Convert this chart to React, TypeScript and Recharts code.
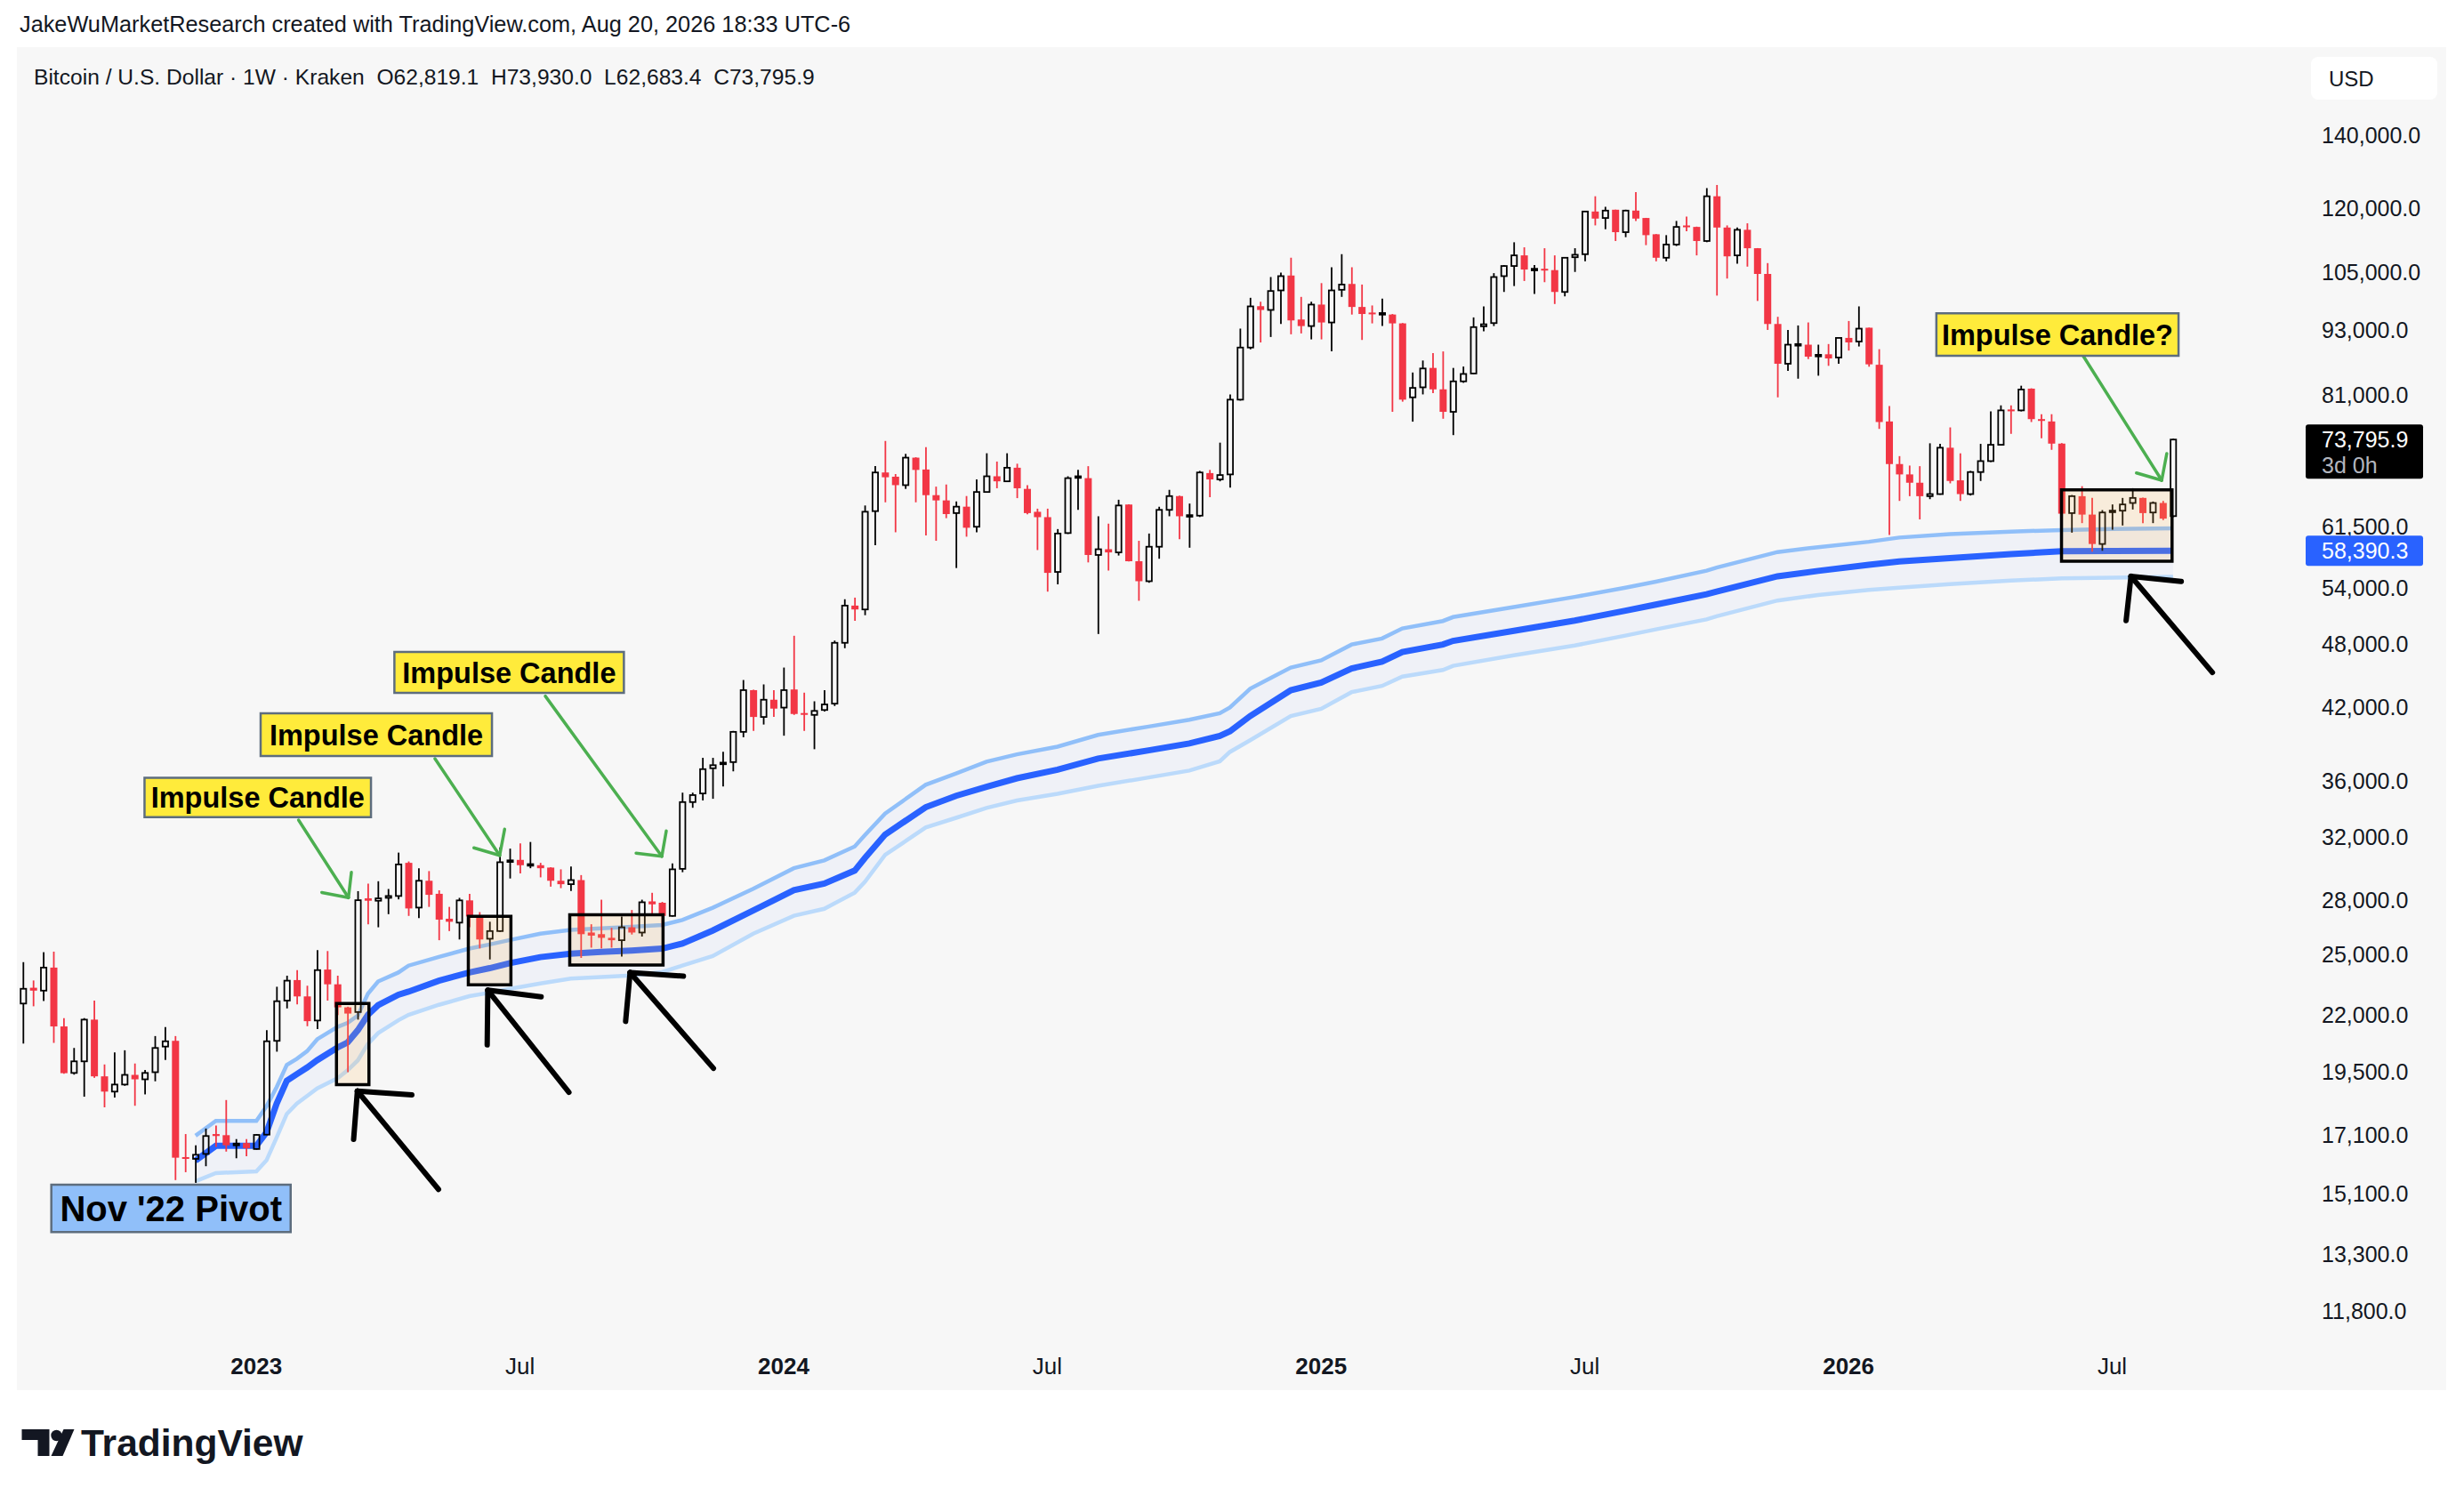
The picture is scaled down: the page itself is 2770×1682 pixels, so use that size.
import React from 'react';
import { ComposedChart, Bar, Line, Area, XAxis, YAxis, ReferenceArea, ReferenceLine } from 'recharts';

const W = 2770;
const H = 1682;
const FONT = '"Liberation Sans", Arial, Helvetica, sans-serif';
const INK = '#131722';
const RED = '#f23645';
const PANEL = '#f7f7f7';

// weekly candles, index 0 = week of Jul 25 2022, index 212 = week of Aug 17 2026
const opens = [
  22530, 23290, 23150, 24300, 21470, 19470, 19950, 21780, 19330, 18720,
  19000, 19390, 19210, 19500, 20580, 20830, 16310, 16250, 16420, 17120,
  17080, 16720, 16800, 16590, 17100, 20830, 22670, 23670, 22870, 21740,
  24200, 23460, 22350, 22130, 28110, 27970, 28140, 28250, 30290, 27570,
  29170, 28380, 26930, 26710, 27990, 27090, 25820, 26240, 30350, 30480,
  30140, 30140, 29990, 29170, 28960, 29210, 26160, 26070, 25870, 25740,
  26450, 26160, 27930, 27850, 27090, 29910, 34420, 35050, 36960, 37300,
  37440, 39900, 43560, 41170, 42690, 41990, 43620, 41510, 41350, 41780,
  42340, 48120, 52040, 51620, 63480, 68860, 68250, 67050, 71040, 69290,
  65650, 64930, 63220, 64080, 61430, 66090, 68310, 67590, 69550, 66520,
  63390, 62680, 55860, 60620, 68200, 68040, 57890, 58590, 58200, 64370,
  57130, 54780, 58900, 63650, 65520, 62800, 62880, 68770, 67860, 68580,
  80260, 89560, 97700, 96930, 101000, 104210, 95000, 93700, 98030, 94410,
  101130, 102380, 97540, 96400, 96000, 96000, 94230, 80650, 82370, 85800,
  82020, 78230, 83410, 84800, 93650, 94290, 104080, 106320, 108720, 105500,
  105700, 105400, 100670, 108300, 108990, 119230, 117620, 119680, 114160, 119460,
  117620, 113660, 108180, 111230, 115780, 115430, 112060, 123120, 115280, 108720,
  114730, 110370, 104560, 94110, 86560, 90100, 90100, 88000, 88300, 87700,
  91390, 90700, 93370, 86370, 76660, 70090, 68580, 67390, 65510, 65800,
  72540, 67730, 65800, 68920, 70530, 72990, 78620, 78470, 82140, 77040,
  76660, 73170, 63220, 65510, 63020, 59240, 63450, 63540, 64580, 65270,
  63300, 64580, 62819.1,
];
const highs = [
  24580, 23650, 25100, 25130, 21850, 20520, 21850, 22670, 19820, 20330,
  20420, 19860, 19590, 21040, 21440, 21040, 17120, 16720, 17320, 17430,
  18390, 16940, 16940, 17120, 21300, 23340, 23890, 24170, 23390, 25210,
  25160, 23890, 22380, 28540, 29000, 29140, 28670, 30950, 30380, 29950,
  29770, 28590, 27610, 28140, 28380, 27310, 26760, 31290, 31210, 31550,
  31650, 30290, 30010, 29880, 30060, 29520, 26620, 28030, 26420, 27060,
  27430, 28030, 28440, 27900, 30250, 35110, 35110, 37780, 37780, 38260,
  39980, 44500, 43600, 44090, 43560, 45680, 48840, 43330, 42550, 43560,
  48350, 52740, 52920, 64240, 69780, 73580, 68630, 71610, 71100, 72630,
  66840, 67140, 64790, 65530, 67880, 71700, 70460, 71700, 70140, 67050,
  63810, 63810, 61130, 68310, 69230, 69780, 62800, 61830, 65020, 64400,
  59640, 60560, 64070, 66390, 65600, 64500, 69090, 69230, 73320, 81130,
  93200, 99440, 98620, 103880, 104870, 108190, 99630, 98620, 102560, 106040,
  109000, 106040, 102250, 97850, 99250, 96100, 94300, 84980, 87150, 88520,
  88830, 85800, 86050, 95420, 97660, 104730, 106520, 111760, 110580, 106520,
  110370, 108720, 108320, 110370, 119250, 123120, 120420, 119700, 119680, 124200,
  117650, 113700, 113450, 116890, 117990, 115500, 125250, 126080, 115800, 115280,
  116310, 110400, 106970, 95540, 92940, 93820, 94410, 90100, 90220, 91400,
  94700, 97660, 93400, 89250, 79200, 71270, 69870, 69780, 73220, 73130,
  75710, 71690, 69090, 73130, 78320, 79300, 79300, 82650, 82200, 77840,
  77840, 73250, 65670, 66900, 65270, 63620, 64380, 65270, 66620, 65300,
  64780, 64860, 73930,
];
const lows = [
  20710, 22400, 22650, 20740, 19440, 19400, 18520, 19270, 18110, 18490,
  18950, 18170, 18610, 19130, 20010, 15540, 15800, 15450, 16000, 16660,
  16500, 16270, 16340, 16570, 17080, 20360, 22300, 22490, 21480, 21350,
  22670, 21990, 19500, 21780, 26620, 26450, 27190, 28050, 27090, 26960,
  27610, 25740, 26240, 25780, 26450, 25300, 24720, 26200, 29310, 29620,
  29950, 29380, 28810, 28720, 28550, 24800, 25340, 25300, 25340, 24870,
  26050, 25940, 27190, 26450, 27060, 29700, 34010, 34540, 34660, 35570,
  36720, 39450, 39980, 40520, 41170, 39580, 41350, 39980, 38470, 41640,
  42130, 47580, 50400, 51000, 59080, 64670, 60720, 66520, 64670, 60320,
  59640, 62550, 56320, 60160, 60720, 66000, 66610, 67500, 65240, 63050,
  58490, 53590, 54420, 60500, 63650, 56990, 49020, 56020, 57820, 57100,
  52570, 54600, 57430, 62800, 59840, 58780, 62700, 65370, 67590, 66710,
  80100, 89220, 90520, 91570, 94110, 92090, 92260, 91110, 91110, 88830,
  99630, 95990, 91000, 94230, 93700, 78230, 79920, 76630, 81150, 81370,
  77100, 74490, 83150, 84700, 92650, 93700, 100670, 101930, 103020, 100230,
  102760, 98150, 99740, 105000, 107370, 115800, 114870, 112060, 112970, 116890,
  111090, 107370, 107370, 110880, 114370, 108720, 111780, 99900, 103550, 106840,
  106180, 98780, 92940, 80650, 85270, 83880, 87420, 84410, 86180, 86560,
  88990, 89760, 86020, 75470, 60370, 64860, 65510, 62390, 65100, 65700,
  67300, 64860, 65600, 67640, 70400, 72900, 74690, 78300, 76570, 73990,
  72220, 59000, 60670, 61900, 58300, 58400, 61050, 61590, 63700, 61900,
  61900, 62300, 62683.4,
];
const closes = [
  23240, 23150, 24300, 21470, 19460, 19950, 21780, 19330, 18720, 19000,
  19390, 19210, 19470, 20520, 20810, 16290, 16270, 16390, 17050, 17050,
  16720, 16780, 16620, 17090, 20810, 22640, 23640, 22870, 21710, 24170,
  23460, 22350, 22060, 28000, 27970, 28110, 28250, 30190, 27520, 29170,
  28320, 26880, 26760, 27990, 27060, 25780, 26240, 30330, 30450, 30140,
  30210, 29950, 29170, 28960, 29210, 26070, 25990, 25870, 25740, 26450,
  26160, 27880, 27760, 27090, 29880, 34420, 34930, 36890, 37200, 37400,
  39900, 43560, 41170, 42690, 41900, 43560, 41430, 41360, 41700, 42270,
  48120, 52040, 51620, 63400, 68860, 68170, 67050, 71040, 69230, 65650,
  64930, 63090, 64080, 61300, 66090, 68310, 67590, 69550, 66610, 63220,
  62680, 55750, 60560, 68040, 68310, 57890, 58590, 58200, 64240, 57130,
  54780, 58900, 63650, 65520, 62800, 62950, 68860, 67860, 68490, 80260,
  89560, 97660, 96930, 100870, 104080, 94820, 93700, 98030, 94410, 101000,
  102250, 97540, 96110, 96110, 96300, 94230, 80260, 82270, 85700, 82020,
  78230, 83410, 84720, 93490, 94050, 103880, 106320, 108720, 105530, 105700,
  105400, 100670, 108180, 108860, 119230, 117470, 119460, 114160, 119460, 117470,
  113450, 108180, 111230, 115430, 115430, 112060, 123120, 115280, 108500, 114730,
  110370, 104560, 94110, 86560, 90100, 90220, 87860, 88200, 87530, 91390,
  90530, 93190, 86450, 76570, 70090, 68580, 67390, 65510, 65800, 72540,
  67640, 65800, 68920, 70530, 72990, 78470, 78320, 81990, 77040, 76750,
  73170, 63140, 65510, 63020, 59240, 63300, 63550, 64380, 65270, 63220,
  64580, 62490, 73795.9,
];

// anchored band (from the Nov '22 low), read at these weeks
const bandWeeks = [
  17, 19, 23, 24, 25, 26, 27, 28, 29, 31, 32, 33, 34, 35, 37, 38, 41, 44, 46, 48,
  51, 54, 57, 60, 63, 65, 68, 72, 76, 79, 82, 83, 85, 89, 92, 95, 98, 102, 106, 111,
  115, 118, 119, 121, 125, 128, 131, 134, 136, 140, 141, 147, 153, 158, 161, 166, 167, 173, 177, 182,
  185, 190, 196, 201, 206, 212,
];
const bandMid = [
  16190, 16700, 16700, 17180, 18250, 19150, 19420, 19690, 20000, 20540, 20760, 21300, 22000, 22450, 22950, 23100, 23640, 24050, 24270, 24530,
  24840, 25020, 25110, 25190, 25290, 25560, 26270, 27400, 28600, 29000, 29800, 30600, 32150, 34050, 34880, 35540, 36190, 36850, 37720, 38380,
  38940, 39560, 39950, 41250, 43550, 44260, 45600, 46250, 47200, 47950, 48320, 49350, 50420, 51480, 52150, 53300, 53600, 55350, 55980, 56700,
  57100, 57500, 58000, 58350, 58380, 58390,
];
const bandUpper = [
  17060, 17600, 17600, 18150, 18900, 19800, 20060, 20380, 20900, 21450, 21630, 21970, 23000, 23600, 24050, 24400, 24850, 25290, 25510, 25750,
  26100, 26300, 26390, 26480, 26580, 26860, 27560, 28680, 29950, 30450, 31350, 32100, 33600, 35700, 36550, 37480, 38060, 38680, 39650, 40350,
  40930, 41500, 42000, 43700, 45680, 46380, 47950, 48560, 49600, 50380, 50800, 51880, 53000, 54040, 54720, 56000, 56380, 58250, 58850, 59520,
  60050, 60500, 60800, 61010, 61150, 61240,
];
const bandLower = [
  15500, 15770, 15830, 16200, 17000, 17860, 18260, 18550, 18850, 19250, 19580, 19990, 20700, 21170, 21750, 22000, 22470, 22880, 23050, 23240,
  23500, 23740, 23820, 23900, 24070, 24400, 24900, 26100, 27100, 27500, 28450, 29100, 30800, 32630, 33300, 34000, 34540, 35030, 35620, 36250,
  36780, 37500, 38250, 39200, 41250, 41880, 43380, 43950, 44820, 45450, 45850, 46880, 47850, 48860, 49500, 50550, 50880, 52600, 53210, 53780,
  54050, 54450, 54850, 55100, 55200, 55300,
];

const priceTicks = [11800, 13300, 15100, 17100, 19500, 22000, 25000, 28000, 32000, 36000, 42000, 48000, 54000, 61500, 81000, 93000, 105000, 120000, 140000];
const timeTicks = [23, 49, 75, 101, 128, 154, 180, 206];
const timeLabels = ['2023', 'Jul', '2024', 'Jul', '2025', 'Jul', '2026', 'Jul'];
const lastPrice = 73795.9;
const bandLast = 58390.3;

// drawings, in (week, price)
const boxes = [
  { x1: 30.9, x2: 34.1, y1: 19000, y2: 22530 },
  { x1: 43.9, x2: 48.1, y1: 23430, y2: 27070 },
  { x1: 53.9, x2: 63.1, y1: 24430, y2: 27160 },
  { x1: 201.0, x2: 211.9, y1: 57130, y2: 66390 },
];
const notes = [
  { text: 'Impulse Candle', x1: 11.97, x2: 34.3, y1: 33350, y2: 36220 },
  { text: 'Impulse Candle', x1: 23.42, x2: 46.23, y1: 37920, y2: 41490 },
  { text: 'Impulse Candle', x1: 36.61, x2: 59.24, y1: 43310, y2: 47200 },
  { text: 'Impulse Candle?', x1: 188.66, x2: 212.54, y1: 88020, y2: 96240 },
];
const pivotNote = { text: "Nov '22 Pivot", x1: 2.78, x2: 26.38, y1: 13930, y2: 15390 };
const greenArrows = [
  { from: [27.16, 33140], tip: [32.08, 28150], a: [29.45, 28460], b: [32.37, 29690] },
  { from: [40.61, 37710], tip: [46.99, 30770], a: [44.45, 31260], b: [47.48, 32510] },
  { from: [51.49, 43020], tip: [62.98, 30710], a: [60.44, 30910], b: [63.42, 32390] },
  { from: [203.13, 88020], tip: [210.88, 67740], a: [208.39, 68790], b: [211.38, 71650] },
];
const blackArrows = [
  { from: [40.96, 15240], tip: [32.96, 18740], a: [38.33, 18590], b: [32.59, 16930] },
  { from: [53.82, 18690], tip: [45.82, 23170], a: [51.08, 22850], b: [45.76, 20650] },
  { from: [68.07, 19660], tip: [59.85, 24050], a: [65.11, 23870], b: [59.41, 21700] },
  { from: [215.88, 45210], tip: [207.85, 55340], a: [212.81, 54760], b: [207.37, 50420] },
];

const candles = opens.map((o, i) => ({ t: i, o, h: highs[i], l: lows[i], c: closes[i], range: [lows[i], highs[i]] }));
const bands = bandWeeks.map((t, i) => ({ t, mid: bandMid[i], up: bandUpper[i], lo: bandLower[i], zone: [bandLower[i], bandUpper[i]] }));

const fmtPrice = (v: number) => v.toLocaleString('en-US', { minimumFractionDigits: 1, maximumFractionDigits: 1 });

const Candle = (props: any) => {
  const { x, y, width, height } = props;
  const d = props.payload || props;
  if (x == null || y == null || d == null || d.h == null) return null;
  const top = Math.min(y, y + height);
  const bottom = Math.max(y, y + height);
  const lh = Math.log(d.h);
  const span = lh - Math.log(d.l);
  const toY = (v: number) => (span > 0 ? top + ((lh - Math.log(v)) / span) * (bottom - top) : top);
  const cx = x + width / 2;
  const bTop = toY(Math.max(d.o, d.c));
  const bBot = toY(Math.min(d.o, d.c));
  if (d.c >= d.o) {
    const bh = Math.max(bBot - bTop, 1.8);
    return (
      <g>
        <line x1={cx} x2={cx} y1={top} y2={bTop} stroke="#000" strokeWidth={1.8} />
        <line x1={cx} x2={cx} y1={bTop + bh} y2={bottom} stroke="#000" strokeWidth={1.8} />
        <rect x={cx - 3.1} y={bTop} width={6.2} height={bh} fill="none" stroke="#000" strokeWidth={1.8} />
      </g>
    );
  }
  return (
    <g>
      <line x1={cx} x2={cx} y1={top} y2={bottom} stroke={RED} strokeWidth={1.8} />
      <rect x={cx - 4} y={bTop} width={8} height={Math.max(bBot - bTop, 2)} fill={RED} />
    </g>
  );
};

const PriceTick = (p: any) => (
  <text x={p.x} y={p.y} dy="0.36em" textAnchor="start" fontSize={25} fontFamily={FONT} fill={INK}>
    {fmtPrice(p.payload.value)}
  </text>
);

const TimeTick = (p: any) => {
  const label = timeLabels[timeTicks.indexOf(p.payload.value)] || '';
  const isYear = /^\d/.test(label);
  return (
    <text x={p.x} y={p.y} dy="0.36em" textAnchor="middle" fontSize={26} fontWeight={isYear ? 700 : 400} fontFamily={FONT} fill={INK}>
      {label}
    </text>
  );
};

const PriceTag = ({ viewBox, bg, text, sub }: any) => {
  if (!viewBox) return null;
  const x = viewBox.x + viewBox.width + 2;
  const y = viewBox.y;
  const h = sub ? 61 : 34;
  return (
    <g>
      <rect x={x} y={y - 17} width={132} height={h} rx={3} fill={bg} />
      <text x={x + 18} y={y} dy="0.36em" fontSize={25} fontFamily={FONT} fill="#fff">{text}</text>
      {sub ? <text x={x + 18} y={y + 29} dy="0.36em" fontSize={25} fontFamily={FONT} fill="#b2b5be">{sub}</text> : null}
    </g>
  );
};

const seg = (p: number[], q: number[]) => [{ x: p[0], y: p[1] }, { x: q[0], y: q[1] }];

const arrowLines = (list: any[], color: string, w: number, key: string) =>
  list.flatMap((ar, i) => [
    <ReferenceLine key={`${key}s${i}`} segment={seg(ar.from, ar.tip)} stroke={color} strokeWidth={w} strokeLinecap="round" zIndex={800} />,
    <ReferenceLine key={`${key}a${i}`} segment={seg(ar.tip, ar.a)} stroke={color} strokeWidth={w} strokeLinecap="round" zIndex={800} />,
    <ReferenceLine key={`${key}b${i}`} segment={seg(ar.tip, ar.b)} stroke={color} strokeWidth={w} strokeLinecap="round" zIndex={800} />,
  ]);

const TvLogo = () => (
  <g transform="translate(24.5,1607)">
    <path d="M0 0 H31 V30 H18 V12 H0 Z" fill={INK} />
    <circle cx={39} cy={7} r={6.2} fill={INK} />
    <path d="M47 0 H59 L46 30 H33 Z" fill={INK} />
    <text x={66.5} y={30} fontSize={42.5} fontWeight={700} fontFamily={FONT} fill={INK}>TradingView</text>
  </g>
);

export default function App() {
  return (
    <div style={{ position: 'absolute', left: 0, top: 0, width: W, height: H, background: '#fff' }}>
      <svg width={W} height={H} style={{ position: 'absolute', left: 0, top: 0 }}>
        <rect x={19} y={53} width={2731} height={1510} fill={PANEL} />
        <text x={22} y={27} dy="0.36em" fontSize={25.3} fontFamily={FONT} fill={INK}>
          JakeWuMarketResearch created with TradingView.com, Aug 20, 2026 18:33 UTC-6
        </text>
        <text x={38} y={86} dy="0.36em" fontSize={24.6} fontFamily={FONT} fill={INK} style={{ whiteSpace: 'pre' }}>
          {'Bitcoin / U.S. Dollar · 1W · Kraken  O62,819.1  H73,930.0  L62,683.4  C73,795.9'}
        </text>
        <rect x={2598} y={64} width={142} height={48} rx={8} fill="#fff" />
        <text x={2618} y={88} dy="0.36em" fontSize={24} fontFamily={FONT} fill={INK}>USD</text>
        <TvLogo />
      </svg>
      <div style={{ position: 'absolute', left: 0, top: 0 }}>
        <ComposedChart width={W} height={H} data={candles} margin={{ top: 53, right: 20, bottom: 119, left: 19 }}>
          <XAxis
            dataKey="t"
            type="number"
            domain={[-0.614, 224.9]}
            allowDataOverflow
            ticks={timeTicks}
            interval={0}
            tick={TimeTick}
            axisLine={false}
            tickLine={false}
            tickMargin={25}
            height={58}
          />
          <YAxis
            orientation="right"
            type="number"
            scale="log"
            domain={[11134, 168490]}
            allowDataOverflow
            ticks={priceTicks}
            interval={0}
            tick={PriceTick}
            axisLine={false}
            tickLine={false}
            tickMargin={14}
            width={160}
          />
          <Area data={bands} dataKey="zone" type="linear" stroke="none" fill="#2962ff" fillOpacity={0.04} isAnimationActive={false} />
          <Line data={bands} dataKey="up" type="linear" stroke="#90bff9" strokeWidth={4.5} dot={false} activeDot={false} isAnimationActive={false} />
          <Line data={bands} dataKey="lo" type="linear" stroke="#bbdafb" strokeWidth={4.5} dot={false} activeDot={false} isAnimationActive={false} />
          <Line data={bands} dataKey="mid" type="linear" stroke="#2962ff" strokeWidth={7} dot={false} activeDot={false} isAnimationActive={false} />
          <Bar dataKey="range" barSize={8} shape={Candle} isAnimationActive={false} zIndex={450} />
          {boxes.map((b, i) => (
            <ReferenceArea key={`box${i}`} x1={b.x1} x2={b.x2} y1={b.y1} y2={b.y2} fill="#ffb74d" fillOpacity={0.16} stroke="#000" strokeWidth={3.5} zIndex={700} />
          ))}
          {arrowLines(greenArrows, '#4caf50', 3.5, 'g')}
          {arrowLines(blackArrows, '#000', 6, 'k')}
          {notes.map((n, i) => (
            <ReferenceArea
              key={`note${i}`}
              x1={n.x1}
              x2={n.x2}
              y1={n.y1}
              y2={n.y2}
              fill="#ffeb3b"
              fillOpacity={1}
              stroke="#5d6d7e"
              strokeWidth={2.5}
              zIndex={900}
              label={{ value: n.text, position: 'center', fill: '#000', fontSize: 32.5, fontWeight: 700, fontFamily: FONT }}
            />
          ))}
          <ReferenceArea
            x1={pivotNote.x1}
            x2={pivotNote.x2}
            y1={pivotNote.y1}
            y2={pivotNote.y2}
            fill="#90bff9"
            fillOpacity={1}
            stroke="#5d6d7e"
            strokeWidth={2.5}
            zIndex={900}
            label={{ value: pivotNote.text, position: 'center', fill: '#000', fontSize: 40, fontWeight: 700, fontFamily: FONT }}
          />
          <ReferenceLine y={lastPrice} stroke="none" zIndex={2100} label={(p: any) => <PriceTag {...p} bg="#000" text={fmtPrice(lastPrice)} sub="3d 0h" />} />
          <ReferenceLine y={bandLast} stroke="none" zIndex={2100} label={(p: any) => <PriceTag {...p} bg="#2962ff" text={fmtPrice(bandLast)} />} />
        </ComposedChart>
      </div>
    </div>
  );
}
